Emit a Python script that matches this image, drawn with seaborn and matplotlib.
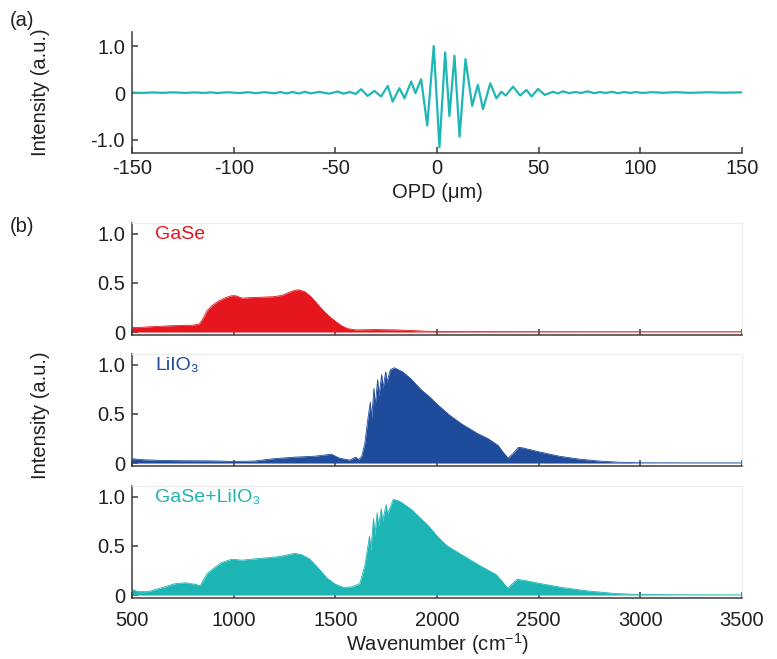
import matplotlib
matplotlib.use("Agg")
import matplotlib.pyplot as plt
import seaborn as sns

# (a) interferogram (OPD in um, normalised intensity)
opd = [-150, -145, -140, -135, -130, -124, -119, -115, -111, -108, -103, -97, -93, -89,
       -85, -80, -77, -74, -71, -68, -65, -62, -58, -53, -49, -46, -43, -40,
       -37.3, -34.1, -30.8, -27.5, -24.2, -21.8, -18.5, -16.0, -12.7, -10.6, -7.8, -4.8,
       -1.6, 1.2, 4.0, 6.1, 8.6, 11.1, 14.0, 17.3, 20.1, 22.6, 26.2, 29.2, 31.6, 33.8,
       37.4, 40.9, 44, 46.5, 49.7, 53, 57, 59.5, 62, 65, 68, 71, 74, 77.3, 80, 83,
       86, 89, 92, 95, 98, 101, 106, 111, 117, 124, 134, 141, 149, 150]
interferogram = [0.012, 0.006, 0.016, 0.008, 0.018, 0.006, 0.018, 0.006, 0.018, 0.004, 0.02, 0.002, 0.022, 0.0,
                 0.022, -0.002, 0.024, -0.004, 0.026, -0.006, 0.03, -0.004, 0.028, -0.01, 0.035, -0.01, 0.025, -0.015,
                 0.085, -0.058, 0.05, -0.07, 0.156, -0.18, 0.107, -0.107, 0.25, 0.0, 0.3, -0.69,
                 1.01, -1.16, 0.87, -0.49, 0.8, -0.93, 0.73, -0.27, 0.18, -0.34, 0.21, -0.11, 0.03, -0.05,
                 0.14, -0.05, 0.07, -0.07, 0.09, -0.036, 0.03, -0.005, 0.04, 0.0, 0.025, 0.005, 0.04, 0.0, 0.025, 0.005,
                 0.03, 0.0, 0.025, 0.005, 0.025, 0.005, 0.022, 0.008, 0.022, 0.008, 0.02, 0.01, 0.018, 0.015]

# (b) spectra envelopes (wavenumber in cm^-1, normalised intensity)
wn_gase = [500, 520, 600, 700, 800, 830, 850, 870, 900, 930, 960, 990, 1010, 1040, 1080,
           1140, 1200, 1240, 1280, 1300, 1320, 1350, 1380, 1410, 1440, 1470, 1500, 1530,
           1560, 1600, 1700, 1800, 1880, 1950, 2100, 2500, 3000, 3500]
int_gase = [0.05, 0.045, 0.055, 0.065, 0.07, 0.08, 0.14, 0.22, 0.28, 0.32, 0.35, 0.37, 0.37, 0.345, 0.35,
            0.355, 0.36, 0.375, 0.41, 0.425, 0.43, 0.41, 0.36, 0.29, 0.22, 0.16, 0.11, 0.065,
            0.035, 0.022, 0.025, 0.022, 0.015, 0.008, 0.005, 0.004, 0.003, 0.003]

wn_liio3 = [500, 520, 560, 650, 750, 900, 1000, 1100, 1200, 1300, 1400, 1460, 1480, 1520, 1570,
            1600, 1615, 1630, 1645, 1660, 1672, 1678, 1690, 1696, 1708, 1714, 1728, 1734, 1748,
            1754, 1770, 1790, 1810, 1830, 1870, 1920, 1960, 2000, 2060, 2120, 2200, 2250, 2300,
            2325, 2350, 2375, 2400, 2420, 2450, 2500, 2600, 2700, 2800, 2900, 3000, 3200, 3500]
int_liio3 = [0.045, 0.04, 0.033, 0.026, 0.024, 0.022, 0.016, 0.02, 0.045, 0.06, 0.07, 0.085, 0.09, 0.05, 0.03,
             0.06, 0.035, 0.07, 0.2, 0.45, 0.62, 0.45, 0.76, 0.58, 0.85, 0.68, 0.9, 0.76, 0.93,
             0.82, 0.95, 0.97, 0.95, 0.93, 0.86, 0.75, 0.68, 0.6, 0.49, 0.4, 0.3, 0.25, 0.18,
             0.11, 0.05, 0.1, 0.16, 0.155, 0.14, 0.115, 0.07, 0.04, 0.02, 0.008, 0.003, 0.002, 0.002]

wn_mix = [500, 530, 580, 650, 710, 760, 810, 835, 850, 870, 900, 940, 990, 1040, 1140,
          1220, 1300, 1335, 1375, 1420, 1460, 1500, 1540, 1580, 1620, 1645, 1668, 1674, 1688,
          1694, 1706, 1712, 1726, 1732, 1750, 1756, 1785, 1820, 1875, 1960, 2000, 2050, 2130,
          2210, 2290, 2320, 2347, 2372, 2395, 2440, 2500, 2620, 2750, 2880, 3000, 3200, 3500]
int_mix = [0.057, 0.035, 0.035, 0.077, 0.115, 0.125, 0.11, 0.095, 0.15, 0.22, 0.27, 0.33, 0.365, 0.355, 0.375,
           0.39, 0.425, 0.41, 0.365, 0.265, 0.17, 0.11, 0.077, 0.083, 0.115, 0.3, 0.6, 0.45, 0.78,
           0.6, 0.84, 0.7, 0.88, 0.75, 0.92, 0.82, 0.975, 0.95, 0.87, 0.7, 0.6, 0.5, 0.4,
           0.3, 0.21, 0.14, 0.07, 0.12, 0.16, 0.145, 0.12, 0.075, 0.04, 0.015, 0.006, 0.003, 0.002]

spectra = [
    (wn_gase, int_gase, "#e5161d", "GaSe"),
    (wn_liio3, int_liio3, "#1f4b9b", "LiIO₃"),
    (wn_mix, int_mix, "#1db4b4", "GaSe+LiIO₃"),
]

sns.set_theme(style="ticks")
plt.rcParams["font.family"] = ["Liberation Sans", "DejaVu Sans"]
plt.rcParams["mathtext.fontset"] = "custom"
plt.rcParams["mathtext.rm"] = "Liberation Sans"
text_color = "#231f20"
spine_color = "#3c3c3c"
fs = 14.5

W, H = 777, 659
fig = plt.figure(figsize=(W / 100, H / 100), dpi=100)


def px_axes(left, top, right, bottom):
    return fig.add_axes([left / W, 1 - bottom / H, (right - left) / W, (bottom - top) / H])


def style_axes(ax):
    for side in ["left", "bottom"]:
        ax.spines[side].set_color(spine_color)
        ax.spines[side].set_linewidth(1.1)
    ax.tick_params(direction="in", length=4, width=1.1, color=spine_color,
                   labelsize=fs, labelcolor=text_color, pad=5)


# (a) interferogram
ax_a = px_axes(132, 32, 742, 153)
line = sns.lineplot(x=opd, y=interferogram, ax=ax_a, color="#20b6b6", linewidth=1.6, sort=False)
ax_a.lines[0].set_solid_joinstyle("round")
ax_a.set_xlim(-150, 150)
ax_a.set_ylim(-1.28, 1.31)
ax_a.set_xticks([-150, -100, -50, 0, 50, 100, 150])
ax_a.set_xticklabels(["-150", "-100", "-50", "0", "50", "100", "150"])
ax_a.set_yticks([-1, 0, 1])
ax_a.set_yticklabels(["-1.0", "0", "1.0"])
ax_a.set_ylabel("")
sns.despine(ax=ax_a)
style_axes(ax_a)
ax_a.tick_params(axis="x", pad=4)
ax_a.set_xlabel("OPD (μm)", fontsize=fs, color=text_color, labelpad=4)

# (b) spectra
panel_px = [(223, 335), (354, 466), (486, 598)]
for i, ((wn, inten, color, name), (top, bottom)) in enumerate(zip(spectra, panel_px)):
    ax = px_axes(132, top, 742, bottom)
    ax.fill_between(wn, 0, inten, color=color, linewidth=0)
    sns.lineplot(x=wn, y=inten, ax=ax, color=color, linewidth=0.6)
    ax.set_xlim(500, 3500)
    ax.set_ylim(-0.03, 1.11)
    ax.set_xticks([500, 1000, 1500, 2000, 2500, 3000, 3500])
    ax.set_yticks([0, 0.5, 1.0])
    ax.set_yticklabels(["0", "0.5", "1.0"])
    ax.set_ylabel("")
    ax.text(0.038, 0.9, name, transform=ax.transAxes, color=color, fontsize=14,
            va="center", ha="left")
    for side in ["top", "right"]:
        ax.spines[side].set_color("#ececec")
        ax.spines[side].set_linewidth(0.8)
    style_axes(ax)
    ax.tick_params(axis="x", top=False)
    ax.tick_params(axis="y", right=False)
    if i < 2:
        ax.set_xticklabels([])
    else:
        ax.set_xticklabels(["500", "1000", "1500", "2000", "2500", "3000", "3500"])
        ax.tick_params(axis="x", pad=9)
        ax.set_xlabel(r"Wavenumber (cm$^{\mathregular{-1}}$)", fontsize=fs,
                      color=text_color, labelpad=1)

fig.text(41 / W, 1 - 92 / H, "Intensity (a.u.)", rotation=90, fontsize=fs,
         color=text_color, ha="center", va="center")
fig.text(41 / W, 1 - 415 / H, "Intensity (a.u.)", rotation=90, fontsize=fs,
         color=text_color, ha="center", va="center")
fig.text(10 / W, 1 - 21 / H, "(a)", fontsize=fs, color=text_color, ha="left", va="center")
fig.text(10 / W, 1 - 226 / H, "(b)", fontsize=fs, color=text_color, ha="left", va="center")

fig.savefig("out.png", dpi=100)
